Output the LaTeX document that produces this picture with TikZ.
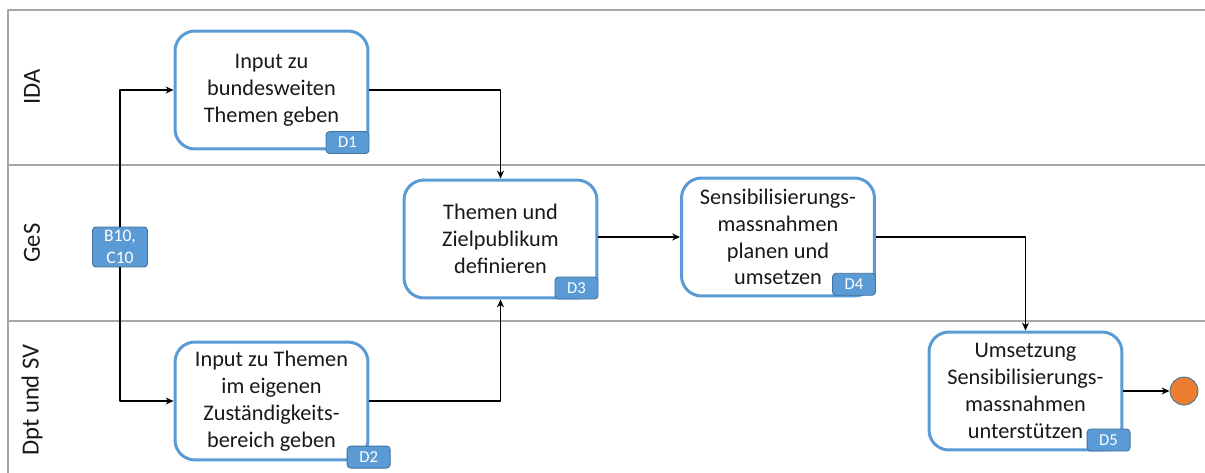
\documentclass[tikz,border=0pt]{standalone}
\usepackage{fontspec}
\setmainfont{Carlito}
\usetikzlibrary{positioning,arrows.meta}
\definecolor{rahmen}{HTML}{5B9BD5}
\definecolor{tagrand}{HTML}{41719C}
\definecolor{bahn}{HTML}{A6A6A6}
\definecolor{orangeende}{HTML}{ED7D31}
\tikzset{
  aufgabe/.style={draw=rahmen, line width=1.7pt, fill=white, rounded corners=0.4cm,
    minimum width=3.86cm, minimum height=2.36cm, align=center, inner sep=2pt,
    font=\fontsize{12.7}{15.3}\selectfont, text=black!90},
  tag/.style={draw=tagrand, line width=0.5pt, fill=rahmen, rounded corners=2pt,
    minimum width=0.86cm, minimum height=0.44cm, inner sep=1pt, text=white,
    font=\fontsize{9.5}{11}\selectfont, align=center},
  bahnlabel/.style={rotate=90, font=\fontsize{14}{16}\selectfont, text=black!90}
}
\begin{document}
\begin{tikzpicture}[x=0.02cm,y=-0.02cm, line join=round, >={Stealth[length=4.5pt,width=4pt]}]
  \useasboundingbox (0,0) rectangle (1205,473);
  % Schwimmbahnen
  \draw[bahn, line width=1pt] (1205,10) -- (8,10) -- (8,473) (8,165) -- (1205,165) (8,321) -- (1205,321);
  \node[bahnlabel] (ida) at (32,87) {IDA};
  \node[bahnlabel] (ges) at (32,243) {GeS};
  \node[bahnlabel] (dpt) at (32,400) {Dpt und SV};
  % Aufgaben
  \node[aufgabe] (d1) at (271.5,90) {Input zu\\bundesweiten\\Themen geben};
  \node[aufgabe] (d2) at (271.5,401) {Input zu Themen\\im eigenen\\Zuständigkeits-\\bereich geben};
  \node[aufgabe] (d3) at (500.5,239) {Themen und\\Zielpublikum\\definieren};
  \node[aufgabe] (d4) at (778,237) {Sensibilisierungs-\\massnahmen\\planen und\\umsetzen};
  \node[aufgabe] (d5) at (1025.5,391) {Umsetzung\\Sensibilisierungs-\\massnahmen\\unterstützen};
  % Kennzeichen
  \node[tag, anchor=south east] (t1) at ([yshift=-2]d1.south east) {D1};
  \node[tag, anchor=south east] (t2) at ([xshift=12,yshift=-4]d2.south east) {D2};
  \node[tag, anchor=south east] (t3) at (d3.south east) {D3};
  \node[tag, anchor=south east] (t4) at ([yshift=1]d4.south east) {D4};
  \node[tag, anchor=south east] (t5) at ([xshift=4]d5.south east) {D5};
  \node[tag, minimum width=1.1cm, minimum height=0.8cm, font=\fontsize{10}{12.5}\selectfont] (b10) at (120,247) {B10,\\C10};
  \node[circle, draw=tagrand, line width=0.5pt, fill=orangeende, minimum size=0.56cm, inner sep=0pt] (ende) at (1184,391) {};
  % Verbindungen
  \draw[->, line width=0.8pt] (b10.north) |- (d1.west);
  \draw[->, line width=0.8pt] (b10.south) |- (d2.west);
  \draw[->, line width=0.8pt] (d1.east) -| (d3.north);
  \draw[->, line width=0.8pt] (d2.east) -| (d3.south);
  \draw[->, line width=0.8pt] (d4.west -| d3.east) -- (d4.west);
  \draw[->, line width=0.8pt] (d4.east) -| (d5.north);
  \draw[->, line width=0.8pt] (d5.east) -- (ende.west);
\end{tikzpicture}
\end{document}
